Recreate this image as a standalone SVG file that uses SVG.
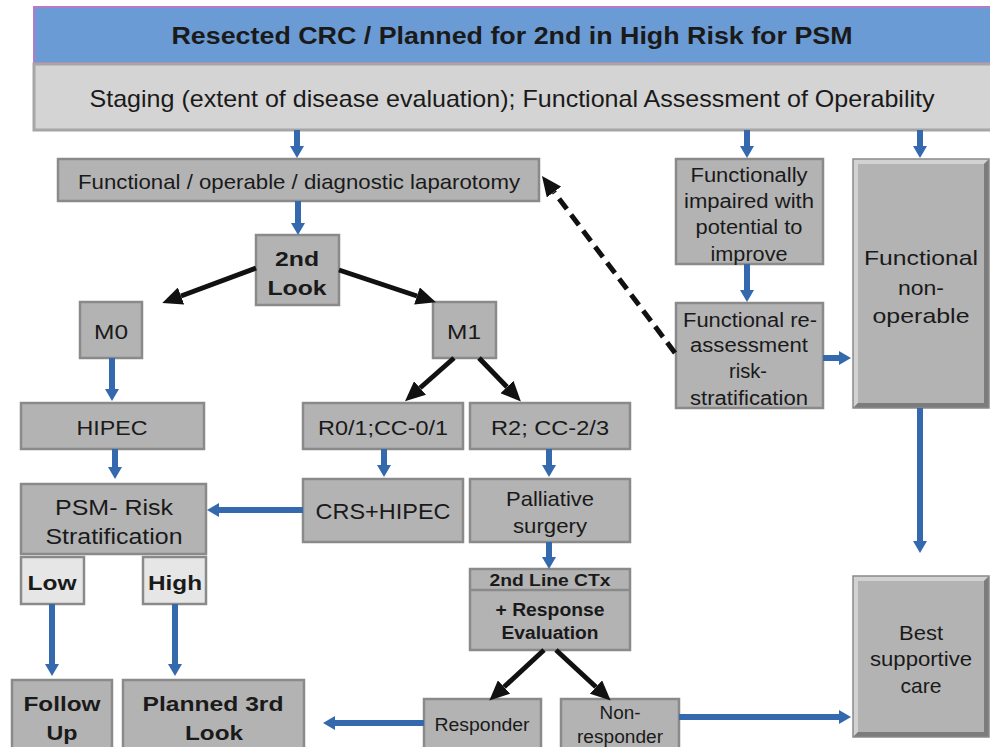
<svg xmlns="http://www.w3.org/2000/svg" width="990" height="747" viewBox="0 0 990 747">
  <style>
    text { font-family: "Liberation Sans", Arial, sans-serif; fill: #1a1a1a; text-anchor: middle; dominant-baseline: central; }
    .box { fill: #b3b3b3; stroke: #8a8a8a; stroke-width: 2.5; }
    .lite { fill: #e6e6e6; stroke: #8a8a8a; stroke-width: 2.5; }
    .b { font-weight: bold; }
    .blue { stroke: #3569ad; stroke-width: 6; fill: none; marker-end: url(#headBlue); }
    .black { stroke: #111; stroke-width: 5; fill: none; marker-end: url(#headBlack); }
    .dash { stroke: #111; stroke-width: 5; fill: none; stroke-dasharray: 13 7; marker-end: url(#headBlack); }
    .hi { fill: #d2d2d2; }
    .lo { fill: #7c7c7c; }
  </style>
  <defs>
    <marker id="headBlue" markerUnits="userSpaceOnUse" markerWidth="12" markerHeight="14" refX="0" refY="7" orient="auto">
      <path d="M0,0 L12,7 L0,14 z" fill="#3569ad"/>
    </marker>
    <marker id="headBlack" markerUnits="userSpaceOnUse" markerWidth="20" markerHeight="18" refX="0" refY="9" orient="auto">
      <path d="M0,0 L20,9 L0,18 z" fill="#111"/>
    </marker>
  </defs>

  <!-- header bars -->
  <g id="title">
    <rect x="34" y="7" width="960" height="56" fill="#6b9bd4" stroke="#b57bc8" stroke-width="2"/>
    <text x="512" y="36" class="b" font-size="23" textLength="681" lengthAdjust="spacingAndGlyphs">Resected CRC  / Planned for 2nd in High Risk for PSM</text>
  </g>
  <g id="staging">
    <rect x="34" y="64" width="960" height="66" fill="#d4d4d4" stroke="#a6a6a6" stroke-width="3"/>
    <text x="512" y="98" font-size="24" textLength="845" lengthAdjust="spacingAndGlyphs">Staging (extent of disease evaluation); Functional Assessment of Operability</text>
  </g>

  <!-- left branch -->
  <g id="laparotomy">
    <rect class="box" x="58" y="159" width="481" height="42"/>
    <text x="299" y="181" font-size="21" textLength="442" lengthAdjust="spacingAndGlyphs">Functional / operable / diagnostic laparotomy</text>
  </g>
  <g id="second-look">
    <rect class="box" x="256" y="235" width="83" height="70"/>
    <text x="297" y="258" class="b" font-size="21" textLength="44" lengthAdjust="spacingAndGlyphs">2nd</text>
    <text x="297" y="287" class="b" font-size="21" textLength="59" lengthAdjust="spacingAndGlyphs">Look</text>
  </g>
  <g id="m0">
    <rect class="box" x="80" y="302" width="62" height="56"/>
    <text x="111" y="331" font-size="21" textLength="34" lengthAdjust="spacingAndGlyphs">M0</text>
  </g>
  <g id="m1">
    <rect class="box" x="433" y="302" width="63" height="56"/>
    <text x="464" y="331" font-size="21" textLength="34" lengthAdjust="spacingAndGlyphs">M1</text>
  </g>
  <g id="hipec">
    <rect class="box" x="21" y="403" width="183" height="46"/>
    <text x="112" y="427" font-size="21" textLength="71" lengthAdjust="spacingAndGlyphs">HIPEC</text>
  </g>
  <g id="r01">
    <rect class="box" x="303" y="403" width="160" height="46"/>
    <text x="383" y="427" font-size="21" textLength="130" lengthAdjust="spacingAndGlyphs">R0/1;CC-0/1</text>
  </g>
  <g id="r2">
    <rect class="box" x="470" y="403" width="160" height="46"/>
    <text x="550" y="427" font-size="21" textLength="118" lengthAdjust="spacingAndGlyphs">R2; CC-2/3</text>
  </g>
  <g id="psm-risk">
    <rect class="box" x="21" y="484" width="185" height="70"/>
    <text x="114" y="507" font-size="22" textLength="118" lengthAdjust="spacingAndGlyphs">PSM- Risk</text>
    <text x="114" y="536" font-size="22" textLength="137" lengthAdjust="spacingAndGlyphs">Stratification</text>
  </g>
  <g id="crs-hipec">
    <rect class="box" x="303" y="479" width="160" height="63"/>
    <text x="383" y="511" font-size="22" textLength="135" lengthAdjust="spacingAndGlyphs">CRS+HIPEC</text>
  </g>
  <g id="palliative">
    <rect class="box" x="470" y="479" width="160" height="63"/>
    <text x="550" y="498" font-size="21" textLength="88" lengthAdjust="spacingAndGlyphs">Palliative</text>
    <text x="550" y="525" font-size="21" textLength="74" lengthAdjust="spacingAndGlyphs">surgery</text>
  </g>
  <g id="low">
    <rect class="lite" x="21" y="557" width="63" height="47"/>
    <text x="52" y="582" class="b" font-size="21" textLength="49" lengthAdjust="spacingAndGlyphs">Low</text>
  </g>
  <g id="high">
    <rect class="lite" x="143" y="557" width="63" height="47"/>
    <text x="175" y="582" class="b" font-size="21" textLength="54" lengthAdjust="spacingAndGlyphs">High</text>
  </g>
  <g id="second-line">
    <rect class="box" x="470" y="569" width="160" height="81"/>
    <line x1="470" y1="590" x2="630" y2="590" stroke="#8a8a8a" stroke-width="2.5"/>
    <text x="550" y="580" class="b" font-size="17" textLength="121" lengthAdjust="spacingAndGlyphs">2nd Line CTx</text>
    <text x="550" y="610" class="b" font-size="18" textLength="109" lengthAdjust="spacingAndGlyphs">+ Response</text>
    <text x="550" y="633" class="b" font-size="18" textLength="97" lengthAdjust="spacingAndGlyphs">Evaluation</text>
  </g>
  <g id="follow-up">
    <rect class="box" x="12" y="680" width="100" height="72"/>
    <text x="62" y="703" class="b" font-size="21" textLength="77" lengthAdjust="spacingAndGlyphs">Follow</text>
    <text x="62" y="732" class="b" font-size="21" textLength="31" lengthAdjust="spacingAndGlyphs">Up</text>
  </g>
  <g id="planned-third">
    <rect class="box" x="123" y="680" width="181" height="72"/>
    <text x="213" y="703" class="b" font-size="21" textLength="141" lengthAdjust="spacingAndGlyphs">Planned 3rd</text>
    <text x="214" y="732" class="b" font-size="21" textLength="58" lengthAdjust="spacingAndGlyphs">Look</text>
  </g>
  <g id="responder">
    <rect class="box" x="424" y="699" width="117" height="53"/>
    <text x="482" y="725" font-size="18" textLength="95" lengthAdjust="spacingAndGlyphs">Responder</text>
  </g>
  <g id="non-responder">
    <rect class="box" x="561" y="699" width="118" height="53"/>
    <text x="620" y="713" font-size="18" textLength="41" lengthAdjust="spacingAndGlyphs">Non-</text>
    <text x="620" y="737" font-size="18" textLength="86" lengthAdjust="spacingAndGlyphs">responder</text>
  </g>

  <!-- right branch -->
  <g id="impaired">
    <rect class="box" x="676" y="159" width="147" height="105"/>
    <text x="749" y="175" font-size="20" textLength="117" lengthAdjust="spacingAndGlyphs">Functionally</text>
    <text x="749" y="201" font-size="20" textLength="130" lengthAdjust="spacingAndGlyphs">impaired with</text>
    <text x="749" y="227" font-size="20" textLength="107" lengthAdjust="spacingAndGlyphs">potential to</text>
    <text x="749" y="254" font-size="20" textLength="77" lengthAdjust="spacingAndGlyphs">improve</text>
  </g>
  <g id="reassessment">
    <rect class="box" x="676" y="303" width="147" height="105"/>
    <text x="750" y="320" font-size="20" textLength="134" lengthAdjust="spacingAndGlyphs">Functional re-</text>
    <text x="749" y="345" font-size="20" textLength="118" lengthAdjust="spacingAndGlyphs">assessment</text>
    <text x="748" y="371" font-size="20" textLength="38" lengthAdjust="spacingAndGlyphs">risk-</text>
    <text x="749" y="398" font-size="20" textLength="118" lengthAdjust="spacingAndGlyphs">stratification</text>
  </g>
  <g id="non-operable">
    <rect x="853" y="159" width="136" height="249" fill="#b3b3b3"/>
    <polygon class="hi" points="853,159 989,159 984,164 858,164 858,403 853,408"/>
    <polygon class="lo" points="989,159 989,408 853,408 858,403 984,403 984,164"/>
    <rect x="853" y="159" width="136" height="249" fill="none" stroke="#8a8a8a" stroke-width="1.5"/>
    <text x="921" y="257" font-size="21" textLength="114" lengthAdjust="spacingAndGlyphs">Functional</text>
    <text x="921" y="287" font-size="21" textLength="46" lengthAdjust="spacingAndGlyphs">non-</text>
    <text x="921" y="315" font-size="21" textLength="97" lengthAdjust="spacingAndGlyphs">operable</text>
  </g>
  <g id="best-supportive">
    <rect x="853" y="576" width="136" height="161" fill="#b3b3b3"/>
    <polygon class="hi" points="853,576 989,576 984,581 858,581 858,732 853,737"/>
    <polygon class="lo" points="989,576 989,737 853,737 858,732 984,732 984,581"/>
    <rect x="853" y="576" width="136" height="161" fill="none" stroke="#8a8a8a" stroke-width="1.5"/>
    <text x="921" y="632" font-size="21" textLength="44" lengthAdjust="spacingAndGlyphs">Best</text>
    <text x="921" y="658" font-size="21" textLength="102" lengthAdjust="spacingAndGlyphs">supportive</text>
    <text x="921" y="685" font-size="21" textLength="41" lengthAdjust="spacingAndGlyphs">care</text>
  </g>

  <!-- connectors -->
  <g id="connectors">
    <path class="blue" d="M297,130 V146"/>
    <path class="blue" d="M747,130 V146"/>
    <path class="blue" d="M920,130 V146"/>
    <path class="blue" d="M298,201 V223"/>
    <path class="blue" d="M747,264 V290"/>
    <path class="blue" d="M823,358 H839"/>
    <path class="blue" d="M920,408 V541"/>
    <path class="blue" d="M112,358 V389"/>
    <path class="blue" d="M115,449 V467"/>
    <path class="blue" d="M384,449 V465"/>
    <path class="blue" d="M549,449 V465"/>
    <path class="blue" d="M549,542 V557"/>
    <path class="blue" d="M303,510 H219"/>
    <path class="blue" d="M52,604 V664"/>
    <path class="blue" d="M175,604 V664"/>
    <path class="blue" d="M424,723 H335"/>
    <path class="blue" d="M679,717 H839"/>

    <path class="black" d="M256,268 L181,296"/>
    <path class="black" d="M339,270 L417,296"/>
    <path class="black" d="M454,358 L420,388"/>
    <path class="black" d="M479,358 L507,387"/>
    <path class="black" d="M544,650 L504,687"/>
    <path class="black" d="M556,650 L596,687"/>

    <path class="dash" d="M675,353 L554,192"/>
  </g>
</svg>
